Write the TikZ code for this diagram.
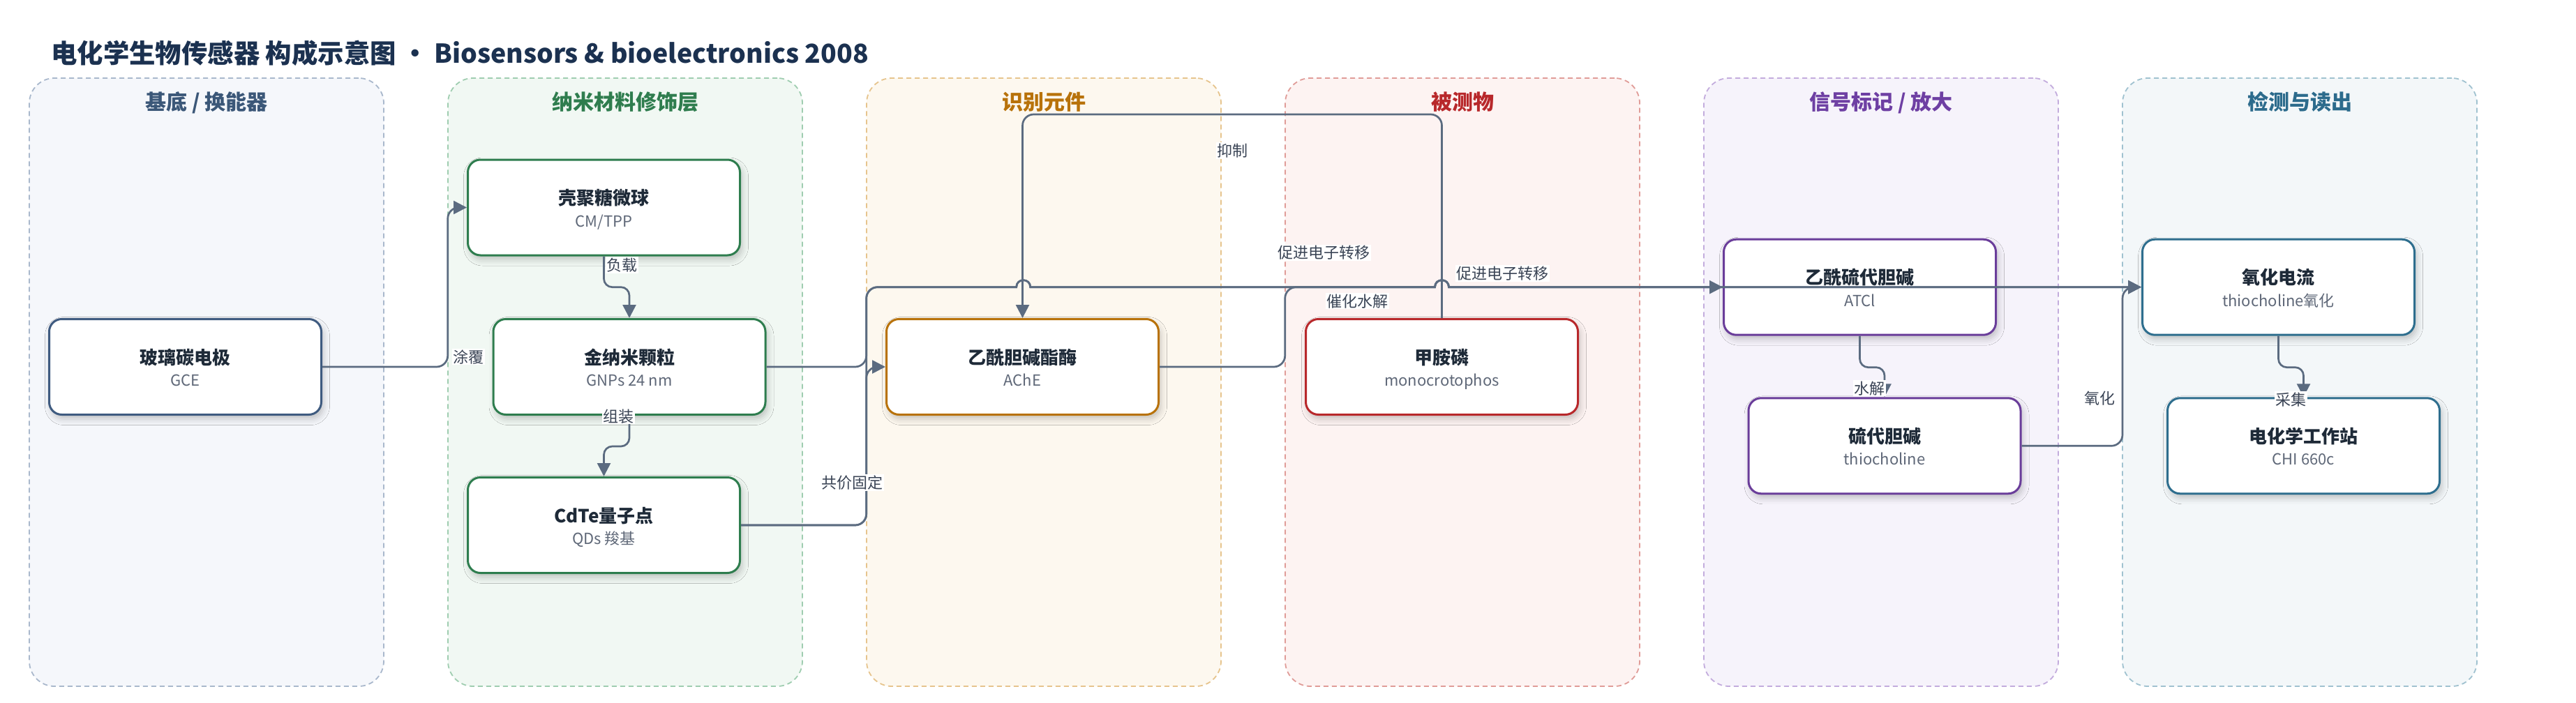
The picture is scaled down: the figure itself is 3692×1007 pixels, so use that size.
\documentclass[tikz,border=0pt]{standalone}
\usepackage{fontspec}
\setmainfont{Noto Sans CJK SC}
\usetikzlibrary{arrows.meta,shadows.blur,calc}
\definecolor{titlec}{HTML}{1B3150}
\definecolor{edgec}{HTML}{5B6B80}
\definecolor{labelc}{HTML}{3A4455}
\definecolor{ntext}{HTML}{1E2A38}
\definecolor{nsubc}{HTML}{5F6878}
\definecolor{laneAfill}{HTML}{F5F7FB}\definecolor{laneAline}{HTML}{A9B8CC}\definecolor{laneAtext}{HTML}{3B5778}\definecolor{nodeA}{HTML}{3F5B80}
\definecolor{laneBfill}{HTML}{F1F8F3}\definecolor{laneBline}{HTML}{9FCDB0}\definecolor{laneBtext}{HTML}{2F7D4E}\definecolor{nodeB}{HTML}{2E7D4E}
\definecolor{laneCfill}{HTML}{FDF8EF}\definecolor{laneCline}{HTML}{E6C48D}\definecolor{laneCtext}{HTML}{B8720A}\definecolor{nodeC}{HTML}{B8720A}
\definecolor{laneDfill}{HTML}{FDF3F2}\definecolor{laneDline}{HTML}{E09C98}\definecolor{laneDtext}{HTML}{B8282B}\definecolor{nodeD}{HTML}{B8282B}
\definecolor{laneEfill}{HTML}{F6F3FB}\definecolor{laneEline}{HTML}{C3ACDD}\definecolor{laneEtext}{HTML}{6E3FA3}\definecolor{nodeE}{HTML}{6A3D9A}
\definecolor{laneFfill}{HTML}{F3F7F9}\definecolor{laneFline}{HTML}{A0C2D0}\definecolor{laneFtext}{HTML}{2C6B8C}\definecolor{nodeF}{HTML}{2E6E8E}
\newcommand\myfs[1]{\fontsize{#1}{#1}\selectfont}
\tikzset{
  lanebox/.style={draw=lane#1line, fill=lane#1fill, line width=1.8pt, dash pattern=on 7pt off 5pt,
    rounded corners=36pt, minimum width=508pt, minimum height=872pt, inner sep=0pt},
  lanetitle/.style={font=\bfseries\myfs{30}, text=lane#1text, anchor=base},
  box/.style={draw=#1, line width=3pt, fill=white, rounded corners=18pt, minimum width=390pt,
    minimum height=137pt, inner sep=0pt,
    blur shadow={shadow xshift=3pt, shadow yshift=-6pt, shadow blur radius=9pt, shadow opacity=22}},
  ntitle/.style={font=\bfseries\myfs{26}, text=ntext, anchor=base, inner sep=0pt},
  nsub/.style={font=\myfs{22}, text=nsubc, anchor=base, inner sep=0pt},
  edge/.style={draw=edgec, line width=2.7pt, -{Triangle[length=19pt,width=19pt]}},
  elabel/.style={fill=white, inner sep=1.5pt, font=\myfs{22}, text=labelc},
}
\newcommand\mknode[6]{%
  \node[box=#4] (#1) at (#2,#3) {};
  \node[ntitle] (#1-t) at (#2,#3-4) {#5};
  \node[nsub] (#1-s) at (#2,#3+27.5) {#6};
}
\begin{document}
\begin{tikzpicture}[x=1pt,y=-1pt]
\useasboundingbox (0,0) rectangle (3692,1007);
\fill[white] (0,0) rectangle (3692,1007);
% title
\node[font=\bfseries\myfs{37.4}, text=titlec, anchor=base west, inner sep=0pt] (title) at (73,90.5)
  {电化学生物传感器 构成示意图 • Biosensors \& bioelectronics 2008};
% lanes
\node[lanebox=A] (lane1) at (296,548) {};
\node[lanebox=B] (lane2) at (896,548) {};
\node[lanebox=C] (lane3) at (1496,548) {};
\node[lanebox=D] (lane4) at (2096,548) {};
\node[lanebox=E] (lane5) at (2696,548) {};
\node[lanebox=F] (lane6) at (3296,548) {};
\node[lanetitle=A] (lane1-t) at (296,157.5) {基底 / 换能器};
\node[lanetitle=B] (lane2-t) at (896,157.5) {纳米材料修饰层};
\node[lanetitle=C] (lane3-t) at (1496,157.5) {识别元件};
\node[lanetitle=D] (lane4-t) at (2096,157.5) {被测物};
\node[lanetitle=E] (lane5-t) at (2696,157.5) {信号标记 / 放大};
\node[lanetitle=F] (lane6-t) at (3296,157.5) {检测与读出};
% nodes
\mknode{gce}{265.5}{526}{nodeA}{玻璃碳电极}{GCE}
\mknode{cm}{865.5}{297.5}{nodeB}{壳聚糖微球}{CM/TPP}
\mknode{gnp}{902}{526}{nodeB}{金纳米颗粒}{GNPs 24 nm}
\mknode{cdte}{865.5}{753}{nodeB}{CdTe量子点}{QDs 羧基}
\mknode{ache}{1465.5}{526}{nodeC}{乙酰胆碱酯酶}{AChE}
\mknode{mcp}{2066.5}{526}{nodeD}{甲胺磷}{monocrotophos}
\mknode{atcl}{2665.5}{411.7}{nodeE}{乙酰硫代胆碱}{ATCl}
\mknode{thio}{2701}{639.3}{nodeE}{硫代胆碱}{thiocholine}
\mknode{ox}{3265.5}{411.7}{nodeF}{氧化电流}{thiocholine氧化}
\mknode{cs}{3301.5}{639.3}{nodeF}{电化学工作站}{CHI 660c}
% edges
\draw[edge, rounded corners=16pt] (gce.east) -- (641.7,526) |- (cm.west);
\draw[edge, rounded corners=12pt] (cm.south) -- (865.5,411.7) -| (gnp.north);
\draw[edge, rounded corners=12pt] (gnp.south) -- (902,640) -| (cdte.north);
\draw[edge, rounded corners=16pt] (cdte.east) -- (1241.7,753) |- (ache.west);
\draw[edge] (gnp.east) -- (1225.7,526) .. controls (1234.5,526) and (1241.7,518.8) .. (1241.7,510)
  -- (1241.7,427.7) .. controls (1241.7,418.9) and (1248.9,411.7) .. (1257.7,411.7)
  -- (1456.7,411.7) .. controls (1456.7,398.4) and (1476.7,398.4) .. (1476.7,411.7)
  -- (2056.5,411.7) .. controls (2056.5,398.4) and (2076.5,398.4) .. (2076.5,411.7) -- (ox.west);
\draw[edge] (cdte.east) -- (1225.7,753) .. controls (1234.5,753) and (1241.7,745.8) .. (1241.7,737)
  -- (1241.7,427.7) .. controls (1241.7,418.9) and (1248.9,411.7) .. (1257.7,411.7)
  -- (1456.7,411.7) .. controls (1456.7,398.4) and (1476.7,398.4) .. (1476.7,411.7)
  -- (2056.5,411.7) .. controls (2056.5,398.4) and (2076.5,398.4) .. (2076.5,411.7) -- (ox.west);
\draw[edge, rounded corners=16pt] (mcp.north) -- (2066.5,164) -| (ache.north);
\draw[edge] (ache.east) -- (1825.7,526) .. controls (1834.5,526) and (1841.7,518.8) .. (1841.7,510)
  -- (1841.7,427.7) .. controls (1841.7,418.9) and (1848.9,411.7) .. (1857.7,411.7)
  -- (2056.5,411.7) .. controls (2056.5,398.4) and (2076.5,398.4) .. (2076.5,411.7) -- (atcl.west);
\draw[edge, rounded corners=12pt] (atcl.south) -- (2665.5,526.7) -| (thio.north);
\draw[edge, rounded corners=16pt] (thio.east) -- (3042,639.3) |- (ox.west);
\draw[edge, rounded corners=12pt] (ox.south) -- (3265.5,526.7) -| (cs.north);
% edge labels
\node[elabel] (l1) at (671,511.7) {涂覆};
\node[elabel] (l2) at (891,380) {负载};
\node[elabel] (l3) at (886.7,596.7) {组装};
\node[elabel] (l4) at (1221,692) {共价固定};
\node[elabel] (l5) at (1766.7,216) {抑制};
\node[elabel] (l6) at (1897.7,362.3) {促进电子转移};
\node[elabel] (l7) at (2153,392) {促进电子转移};
\node[elabel] (l8) at (1945,431.7) {催化水解};
\node[elabel] (l9) at (2679,556.7) {水解};
\node[elabel] (l10) at (3009,570.7) {氧化};
\node[elabel] (l11) at (3283,572.7) {采集};
\end{tikzpicture}
\end{document}
